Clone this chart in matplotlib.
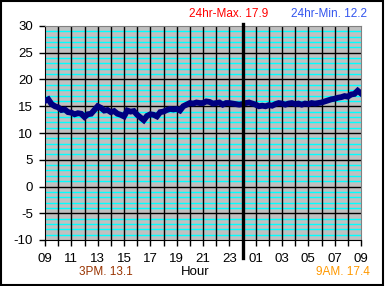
import numpy as np
import matplotlib
matplotlib.use("Agg")
import matplotlib.pyplot as plt
from matplotlib.patches import Rectangle
from matplotlib.ticker import MultipleLocator

# hours since 09:00, temperature readings
hours = np.arange(0, 24.01, 0.25)
temps = [
    16.0, 16.3, 15.4, 15.0, 14.8, 14.3, 14.4, 13.9, 13.8, 13.5, 13.7, 13.6,
    13.0, 13.5, 13.6, 14.3, 15.0, 14.7, 14.2, 14.3, 13.9, 14.1, 13.6, 13.4,
    13.1, 14.2, 14.0, 14.1, 13.4, 12.9, 12.4, 13.2, 13.5, 13.4, 13.1, 13.9,
    14.0, 14.3, 14.5, 14.4, 14.5, 14.2, 15.0, 15.3, 15.6, 15.5, 15.7, 15.6,
    15.6, 15.9, 15.8, 15.5, 15.6, 15.7, 15.3, 15.6, 15.6, 15.5, 15.4, 15.3,
    15.4, 15.6, 15.7, 15.5, 15.3, 15.0, 15.1, 15.0, 15.2, 15.1, 15.4, 15.6,
    15.5, 15.3, 15.5, 15.6, 15.4, 15.5, 15.3, 15.5, 15.4, 15.6, 15.5, 15.6,
    15.7, 15.9, 16.1, 16.3, 16.4, 16.6, 16.7, 16.9, 16.8, 17.2, 17.3, 17.9,
    17.4,
]
tick_labels = ["09", "11", "13", "15", "17", "19", "21", "23",
               "01", "03", "05", "07", "09"]
max_text = "24hr-Max. 17.9"
min_text = "24hr-Min. 12.2"
low_text = "3PM. 13.1"
end_text = "9AM. 17.4"

plt.rcParams['font.family'] = ['Liberation Sans', 'DejaVu Sans']
plt.rcParams['axes.unicode_minus'] = False

fig = plt.figure(figsize=(3.85, 2.86), dpi=100)
fig.patch.set_facecolor('white')
ax = fig.add_axes([45 / 385, 1 - 240 / 286, 316 / 385, 214 / 286])
ax.set_facecolor('#C0C0C0')

ax.set_xlim(0, 24)
ax.set_ylim(-10, 30)

# cyan minor lines every degree
for v in range(-9, 30):
    if v % 5 != 0:
        ax.axhline(v, color='#00FFFF', lw=1.0, zorder=1)
# black major grid
for v in range(-5, 30, 5):
    ax.axhline(v, color='black', lw=1.0, zorder=2)
for h in range(1, 24):
    ax.axvline(h, color='black', lw=1.0, zorder=2)

# midnight marker sticks out above and below the plot
ax.plot([15, 15], [1.009, -0.084], color='black', lw=2.4,
        transform=ax.get_xaxis_transform(), clip_on=False, zorder=5)

ax.plot(hours, temps, color='#000080', lw=4.2, zorder=4,
        solid_joinstyle='miter')

ax.set_xticks(np.arange(0, 25, 2))
ax.set_xticklabels(tick_labels)
ax.xaxis.set_minor_locator(MultipleLocator(1))
ax.set_yticks(np.arange(-10, 31, 5))
ax.tick_params(axis='both', which='both', direction='out', color='black',
               labelsize=9.5, width=1)
ax.tick_params(axis='y', length=4, pad=4.5)
ax.tick_params(axis='x', which='major', length=4, pad=5)
ax.tick_params(axis='x', which='minor', length=4)

for s in ['left', 'bottom']:
    ax.spines[s].set_color('black')
for s in ['top', 'right']:
    ax.spines[s].set_color('#808080')

fig.text(229 / 385, 1 - 14 / 286, max_text, color='#FF0000', fontsize=8.5,
         ha='center', va='center')
fig.text(329 / 385, 1 - 14 / 286, min_text, color='#3355EE', fontsize=8.5,
         ha='center', va='center')
fig.text(106 / 385, 1 - 272 / 286, low_text, color='#993300', fontsize=8.5,
         ha='center', va='center')
fig.text(195 / 385, 1 - 272 / 286, "Hour", color='black', fontsize=9.5,
         ha='center', va='center')
fig.text(343 / 385, 1 - 272 / 286, end_text, color='#FF9900', fontsize=8.5,
         ha='center', va='center')

fig.patches.append(Rectangle((0.002, 0.004), 0.994, 0.992, fill=False,
                             edgecolor='black', lw=1.5,
                             transform=fig.transFigure))

fig.savefig("out.png", dpi=100)
